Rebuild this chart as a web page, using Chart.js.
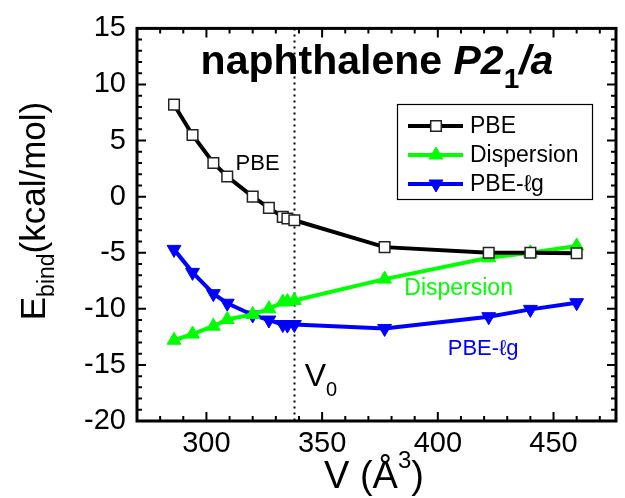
<!DOCTYPE html>
<html>
<head>
<meta charset="utf-8">
<script src="https://cdn.jsdelivr.net/npm/chart.js@4.4.0/dist/chart.umd.min.js"></script>
<style>
html, body { margin: 0; padding: 0; background: #fff; }
#wrap { width: 625px; height: 498px; }
</style>
</head>
<body>
<div id="wrap"><canvas id="energyChart" width="625" height="498"></canvas></div>
<script>
// values
const volumes = [286, 294, 303, 309, 320, 327, 333, 335, 338, 377, 422, 440, 460];
const pbe = [8.2, 5.5, 3.0, 1.8, 0.0, -1.0, -1.8, -1.95, -2.1, -4.5, -5.0, -5.0, -5.05];
const dispersion = [-12.8, -12.25, -11.55, -10.95, -10.5, -10.0, -9.4, -9.35, -9.25, -7.35, -5.45, -5.0, -4.4];
const pbeLg = [-4.7, -6.75, -8.65, -9.5, -10.55, -11.0, -11.4, -11.45, -11.4, -11.75, -10.7, -10.05, -9.45];
const seriesNames = ['PBE', 'Dispersion', 'PBE-ℓg'];
const xTickLabels = [300, 350, 400, 450];
const yTickLabels = [15, 10, 5, 0, -5, -10, -15, -20];
const v0 = 338;

const FONT = '"Liberation Sans", Arial, sans-serif';

function toPoints(ys) {
    return volumes.map((v, i) => ({ x: v, y: ys[i] }));
}

// frame, inward ticks and the dotted V0 line
const framePlugin = {
    id: 'frame',
    beforeDatasetsDraw(chart) {
        const { ctx, chartArea: a, scales: { x, y } } = chart;
        ctx.save();
        ctx.strokeStyle = '#000';

        ctx.lineWidth = 2;
        ctx.setLineDash([2, 4]);
        const xv = Math.round(x.getPixelForValue(v0)) + 0.5;
        ctx.beginPath();
        ctx.moveTo(xv, a.top);
        ctx.lineTo(xv, a.bottom);
        ctx.stroke();
        ctx.setLineDash([]);

        ctx.lineWidth = 2;
        ctx.beginPath();
        for (let v = 280; v <= 470; v += 10) {
            const px = x.getPixelForValue(v);
            const len = v % 50 === 0 ? 9 : 5;
            ctx.moveTo(px, a.bottom); ctx.lineTo(px, a.bottom - len);
            ctx.moveTo(px, a.top); ctx.lineTo(px, a.top + len);
        }
        for (let v = -19; v <= 14; v++) {
            const py = y.getPixelForValue(v);
            const len = v % 5 === 0 ? 9 : 5;
            ctx.moveTo(a.left, py); ctx.lineTo(a.left + len, py);
            ctx.moveTo(a.right, py); ctx.lineTo(a.right - len, py);
        }
        ctx.stroke();

        ctx.lineWidth = 3;
        ctx.strokeRect(a.left, a.top, a.right - a.left, a.bottom - a.top);
        ctx.restore();
    }
};

// title, series labels, legend box, axis titles
const textPlugin = {
    id: 'texts',
    afterDatasetsDraw(chart) {
        const { ctx, scales: { x, y } } = chart;
        ctx.save();
        ctx.textBaseline = 'alphabetic';
        ctx.textAlign = 'left';

        // title
        const parts = [
            { t: 'naphthalene ', f: 'bold 41px ' + FONT, dy: 0 },
            { t: 'P2', f: 'italic bold 41px ' + FONT, dy: 0 },
            { t: '1', f: 'bold 28px ' + FONT, dy: 14 },
            { t: '/a', f: 'italic bold 41px ' + FONT, dy: 0 }
        ];
        let total = 0;
        parts.forEach(p => { ctx.font = p.f; p.w = ctx.measureText(p.t).width; total += p.w; });
        let tx = 377 - total / 2;
        ctx.fillStyle = '#000';
        parts.forEach(p => { ctx.font = p.f; ctx.fillText(p.t, tx, 74 + p.dy); tx += p.w; });

        // labels next to curves
        ctx.font = '22px ' + FONT;
        ctx.fillStyle = '#000';
        ctx.fillText('PBE', x.getPixelForValue(312.6), y.getPixelForValue(2.4));
        ctx.font = '23px ' + FONT;
        ctx.fillStyle = '#00ff00';
        ctx.fillText('Dispersion', x.getPixelForValue(385.5), y.getPixelForValue(-8.8));
        ctx.font = '22px ' + FONT;
        ctx.fillStyle = '#0000ff';
        ctx.fillText('PBE-ℓg', x.getPixelForValue(404.3), y.getPixelForValue(-14.1));

        ctx.fillStyle = '#000';
        ctx.font = '32px ' + FONT;
        const vx = x.getPixelForValue(342.5), vy = y.getPixelForValue(-16.9);
        ctx.fillText('V', vx, vy);
        const vw = ctx.measureText('V').width;
        ctx.font = '20px ' + FONT;
        ctx.fillText('0', vx + vw, vy + 10);

        // legend
        ctx.lineWidth = 1.2;
        ctx.strokeStyle = '#000';
        ctx.strokeRect(397.5, 104.5, 195, 95);
        const rows = [126, 155, 184];
        chart.data.datasets.forEach((ds, i) => {
            const ry = rows[i];
            ctx.strokeStyle = ds.borderColor;
            ctx.lineWidth = 4;
            ctx.beginPath();
            ctx.moveTo(408, ry); ctx.lineTo(463, ry);
            ctx.stroke();
            ctx.fillStyle = ds.pointBackgroundColor;
            ctx.strokeStyle = ds.pointBorderColor;
            ctx.lineWidth = ds.pointBorderWidth;
            Chart.helpers.drawPoint(ctx, {
                pointStyle: ds.pointStyle, radius: ds.pointRadius,
                rotation: ds.pointRotation || 0, borderWidth: ds.pointBorderWidth
            }, 436, ry);
            ctx.fillStyle = '#000';
            ctx.font = '23px ' + FONT;
            ctx.textBaseline = 'middle';
            ctx.fillText(seriesNames[i], 470, ry + 1);
            ctx.textBaseline = 'alphabetic';
        });

        // x axis title
        ctx.fillStyle = '#000';
        ctx.font = '38px ' + FONT;
        let ax = 324;
        ctx.fillText('V (Å', ax, 488);
        ax += ctx.measureText('V (Å').width;
        ctx.font = '24px ' + FONT;
        ctx.fillText('3', ax, 468);
        ax += ctx.measureText('3').width;
        ctx.font = '38px ' + FONT;
        ctx.fillText(')', ax, 488);

        // y axis title
        ctx.translate(45, 211);
        ctx.rotate(-Math.PI / 2);
        const yparts = [
            { t: 'E', f: '35px ' + FONT, dy: 0 },
            { t: 'bind', f: '23px ' + FONT, dy: 9 },
            { t: '(kcal/mol)', f: '35px ' + FONT, dy: 0 }
        ];
        let yt = 0;
        yparts.forEach(p => { ctx.font = p.f; p.w = ctx.measureText(p.t).width; yt += p.w; });
        let yx = -yt / 2;
        yparts.forEach(p => { ctx.font = p.f; ctx.fillText(p.t, yx, p.dy); yx += p.w; });

        ctx.restore();
    }
};

const ctx = document.getElementById('energyChart').getContext('2d');

new Chart(ctx, {
    type: 'line',
    data: {
        datasets: [{
            label: seriesNames[0],
            data: toPoints(pbe),
            borderColor: '#000000',
            borderWidth: 4,
            pointStyle: 'rect',
            pointRadius: 7.5,
            pointBackgroundColor: '#ffffff',
            pointBorderColor: '#222222',
            pointBorderWidth: 1.5
        }, {
            label: seriesNames[1],
            data: toPoints(dispersion),
            borderColor: '#00ff00',
            borderWidth: 4,
            pointStyle: 'triangle',
            pointRadius: 8,
            pointBackgroundColor: '#00ff00',
            pointBorderColor: '#00ff00',
            pointBorderWidth: 1
        }, {
            label: seriesNames[2],
            data: toPoints(pbeLg),
            borderColor: '#0000ff',
            borderWidth: 4,
            pointStyle: 'triangle',
            pointRotation: 180,
            pointRadius: 8,
            pointBackgroundColor: '#0000ff',
            pointBorderColor: '#0000ff',
            pointBorderWidth: 1
        }]
    },
    options: {
        responsive: false,
        animation: false,
        layout: { padding: { top: 26, right: 2, left: 0, bottom: 0 } },
        plugins: {
            legend: { display: false },
            tooltip: { enabled: false }
        },
        scales: {
            x: {
                type: 'linear',
                min: 270,
                max: 477,
                grid: { display: false, drawTicks: false },
                border: { display: false },
                afterBuildTicks: s => { s.ticks = xTickLabels.map(v => ({ value: v })); },
                afterFit: s => { s.height = 77; },
                ticks: { color: '#000', padding: 6, font: { family: FONT, size: 29 } }
            },
            y: {
                min: -20,
                max: 15,
                grid: { display: false, drawTicks: false },
                border: { display: false },
                afterBuildTicks: s => { s.ticks = yTickLabels.map(v => ({ value: v })); },
                afterFit: s => { s.width = 137; },
                ticks: { color: '#000', padding: 11, font: { family: FONT, size: 29 } }
            }
        }
    },
    plugins: [framePlugin, textPlugin]
});
</script>
</body>
</html>
